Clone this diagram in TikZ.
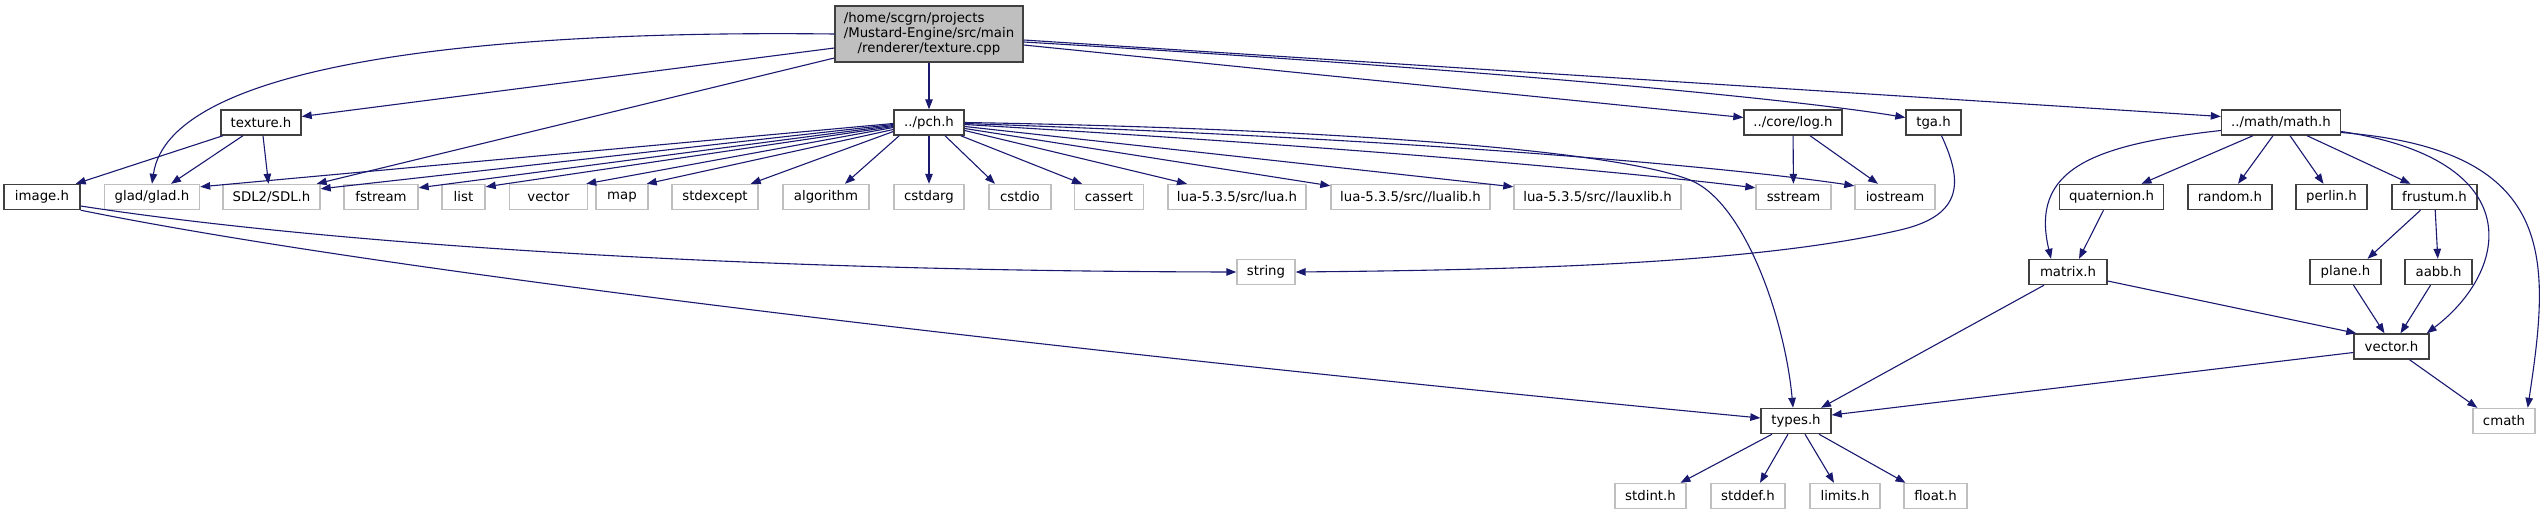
\documentclass[tikz,border=0pt]{standalone}
\usepackage{fontspec}
\setmainfont{DejaVu Sans}
\usetikzlibrary{arrows.meta}
\definecolor{edgeblue}{HTML}{191970}
\definecolor{extgray}{HTML}{BFBFBF}
\definecolor{rootfill}{HTML}{BFBFBF}
\definecolor{nodeborder}{HTML}{404040}
\begin{document}
\begin{tikzpicture}[x=1pt,y=-1pt,
  every node/.style={font=\fontsize{13.3}{15}\selectfont, inner sep=0pt, minimum height=25pt},
  inc/.style={draw=nodeborder, line width=1.4pt, fill=white},
  ext/.style={draw=extgray, line width=1.4pt, fill=white},
  rootnode/.style={draw=nodeborder, line width=1.4pt, fill=rootfill, align=center},
  edge/.style={draw=edgeblue, line width=1.1pt, -{Triangle[length=10pt,width=7.5pt]}}
]
\useasboundingbox (0,0) rectangle (2544,515);

% row 1
\node[rootnode, minimum width=188pt, minimum height=56pt] (root) at (929,34)
  {\rlap{/home/scgrn/projects}\phantom{/Mustard-Engine/src/main}\\/Mustard-Engine/src/main\\/renderer/texture.cpp};
% row 2
\node[inc, minimum width=80pt]  (texture) at (261,122.5) {texture.h};
\node[inc, minimum width=70pt]  (pch)     at (929,122.5) {../pch.h};
\node[inc, minimum width=98pt]  (log)     at (1793,122.5) {../core/log.h};
\node[inc, minimum width=55pt]  (tga)     at (1933.5,122.5) {tga.h};
\node[inc, minimum width=119pt] (math)    at (2281,122.5) {../math/math.h};
% row 3
\node[inc, minimum width=76pt]  (image)     at (42,197) {image.h};
\node[ext, minimum width=95pt]  (glad)      at (152,197) {glad/glad.h};
\node[ext, minimum width=97pt]  (SDL)       at (271.5,197) {SDL2/SDL.h};
\node[ext, minimum width=74pt]  (fstream)   at (381,197) {fstream};
\node[ext, minimum width=43pt]  (list)      at (463.5,197) {list};
\node[ext, minimum width=78pt]  (stdvector) at (548.5,197) {vector};
\node[ext, minimum width=52pt]  (map)       at (622,197) {map};
\node[ext, minimum width=86pt]  (stdexcept) at (715,197) {stdexcept};
\node[ext, minimum width=86pt]  (algorithm) at (826,197) {algorithm};
\node[ext, minimum width=70pt]  (cstdarg)   at (929,197) {cstdarg};
\node[ext, minimum width=62pt]  (cstdio)    at (1020,197) {cstdio};
\node[ext, minimum width=69pt]  (cassert)   at (1109,197) {cassert};
\node[ext, minimum width=138pt] (lua)       at (1237,197) {lua-5.3.5/src/lua.h};
\node[ext, minimum width=159pt] (lualib)    at (1410.5,197) {lua-5.3.5/src//lualib.h};
\node[ext, minimum width=167pt] (lauxlib)   at (1597.5,197) {lua-5.3.5/src//lauxlib.h};
\node[ext, minimum width=75pt]  (sstream)   at (1793.5,197) {sstream};
\node[ext, minimum width=80pt]  (iostream)  at (1895,197) {iostream};
\node[inc, minimum width=104pt] (quaternion) at (2111.5,197) {quaternion.h};
\node[inc, minimum width=84pt]  (random)    at (2230,197) {random.h};
\node[inc, minimum width=71pt]  (perlin)    at (2331.5,197) {perlin.h};
\node[inc, minimum width=85pt]  (frustum)   at (2434.5,197) {frustum.h};
% row 4
\node[ext, minimum width=58pt]  (string) at (1266,272) {string};
\node[inc, minimum width=78pt]  (matrix) at (2068,272) {matrix.h};
\node[inc, minimum width=71pt]  (plane)  at (2345.5,272) {plane.h};
\node[inc, minimum width=67pt]  (aabb)   at (2438.5,272) {aabb.h};
% row 5
\node[inc, minimum width=75pt]  (vectorh) at (2391.5,346.5) {vector.h};
% row 6
\node[inc, minimum width=70pt]  (types) at (1796,421) {types.h};
\node[ext, minimum width=62pt]  (cmath) at (2504,421) {cmath};
% row 7
\node[ext, minimum width=71pt]  (stdint) at (1650.5,496) {stdint.h};
\node[ext, minimum width=74pt]  (stddef) at (1748,496) {stddef.h};
\node[ext, minimum width=70pt]  (limits) at (1845,496) {limits.h};
\node[ext, minimum width=63pt]  (float)  at (1935.5,496) {float.h};

% root edges
\draw[edge] (root.west) .. controls (500,30) and (170,60) .. (glad.north);
\draw[edge] ([yshift=-14pt]root.west) -- ([yshift=6pt]texture.east);
\draw[edge] ([yshift=-24pt]root.west) -- ([xshift=-4pt]SDL.north east);
\draw[edge] (root) -- (pch);
\draw[edge] ([yshift=-11pt]root.east) -- ([yshift=5pt]log.west);
\draw[edge] ([yshift=-8pt]root.east) .. controls (1500,70) and (1800,100) .. ([yshift=5pt]tga.west);
\draw[edge] ([yshift=-6pt]root.east) -- ([yshift=6pt]math.west);

% texture edges
\draw[edge] ([xshift=-38pt]texture.south) -- ([xshift=-5pt]image.north east);
\draw[edge] ([xshift=-18pt]texture.south) -- ([xshift=19pt]glad.north);
\draw[edge] ([xshift=2pt]texture.south) -- ([xshift=-3pt]SDL.north);

% pch edges (left)
\draw[edge] ([yshift=-1pt]pch.west) -- ([yshift=-3pt]glad.north east);
\draw[edge] ([yshift=-2pt]pch.west) -- ([yshift=-5pt]SDL.north east);
\draw[edge] ([yshift=-3pt]pch.west) -- ([yshift=-4pt]fstream.north east);
\draw[edge] ([yshift=-4pt]pch.west) -- ([yshift=-3pt]list.north east);
\draw[edge] ([yshift=-5pt]pch.west) -- ([xshift=-2pt]stdvector.north east);
\draw[edge] ([yshift=-7pt]pch.west) -- ([xshift=-2pt]map.north east);
\draw[edge] ([yshift=-9pt]pch.west) -- ([xshift=-8pt]stdexcept.north east);
\draw[edge] ([xshift=6pt]pch.south west) -- ([xshift=19pt]algorithm.north);
\draw[edge] (pch) -- (cstdarg);
\draw[edge] ([xshift=16pt]pch.south) -- ([xshift=-25pt]cstdio.north);
\draw[edge] ([xshift=-4pt]pch.south east) -- ([xshift=-27pt]cassert.north);
% pch edges (right)
\draw[edge] ([yshift=-8pt]pch.east) -- ([xshift=-50pt]lua.north);
\draw[edge] ([yshift=-6pt]pch.east) -- ([yshift=-2pt]lualib.north west);
\draw[edge] ([yshift=-4pt]pch.east) -- ([yshift=-3pt]lauxlib.north west);
\draw[edge] ([yshift=-2pt]pch.east) .. controls (1400,150) and (1650,175) .. ([yshift=-4pt]sstream.north west);
\draw[edge] ([yshift=-1pt]pch.east) .. controls (1450,140) and (1750,170) .. ([yshift=-2pt]iostream.north west);
\draw[edge] (pch.east) .. controls (1300,128) and (1610,148) .. (1690,180)
  .. controls (1745,202) and (1785,320) .. ([xshift=-3pt]types.north);

% log and tga
\draw[edge] (log) -- (sstream);
\draw[edge] ([xshift=17pt]log.south) -- ([xshift=-17pt]iostream.north);
\draw[edge] ([xshift=8pt]tga.south) .. controls (1962,180) and (1965,215) .. (1900,230)
  .. controls (1750,265) and (1500,270) .. (string.east);

% image
\draw[edge] ([yshift=-9pt]image.east) .. controls (300,240) and (700,271) .. (string.west);
\draw[edge] (image.south east) .. controls (400,275) and (1100,355) .. ([yshift=3pt]types.west);

% math
\draw[edge] ([yshift=-8pt]math.west) .. controls (2090,145) and (2030,170) .. ([xshift=-17pt]matrix.north);
\draw[edge] ([xshift=-28pt]math.south) -- ([xshift=30pt]quaternion.north);
\draw[edge] ([xshift=-8pt]math.south) -- ([xshift=8pt]random.north);
\draw[edge] ([xshift=9pt]math.south) -- ([xshift=-8pt]perlin.north);
\draw[edge] ([xshift=26pt]math.south) -- ([xshift=-24pt]frustum.north);
\draw[edge] ([yshift=-9pt]math.east) .. controls (2530,160) and (2510,270) .. ([xshift=-3pt]vectorh.north east);
\draw[edge] ([yshift=-10pt]math.east) .. controls (2560,150) and (2550,260) .. ([xshift=-8pt]cmath.north east);

\draw[edge] ([xshift=-8pt]quaternion.south) -- ([xshift=11pt]matrix.north);
\draw[edge] ([xshift=-14pt]frustum.south) -- ([xshift=22pt]plane.north);
\draw[edge] (frustum) -- (aabb);
\draw[edge] ([xshift=8pt]plane.south) -- ([xshift=-7pt]vectorh.north);
\draw[edge] ([xshift=-8pt]aabb.south) -- ([xshift=9pt]vectorh.north);
\draw[edge] ([yshift=-9pt]matrix.east) -- ([xshift=3pt]vectorh.north west);
\draw[edge] ([xshift=-24pt]matrix.south) -- ([xshift=25pt]types.north);
\draw[edge] ([yshift=-6pt]vectorh.west) -- ([yshift=6pt]types.east);
\draw[edge] ([xshift=18pt]vectorh.south) -- ([xshift=5pt]cmath.north west);

% types
\draw[edge] ([xshift=-24pt]types.south) -- ([xshift=30pt]stdint.north);
\draw[edge] ([xshift=-8pt]types.south) -- ([xshift=12pt]stddef.north);
\draw[edge] ([xshift=9pt]types.south) -- ([xshift=-11pt]limits.north);
\draw[edge] ([xshift=23pt]types.south) -- ([xshift=-30pt]float.north);
\end{tikzpicture}
\end{document}
